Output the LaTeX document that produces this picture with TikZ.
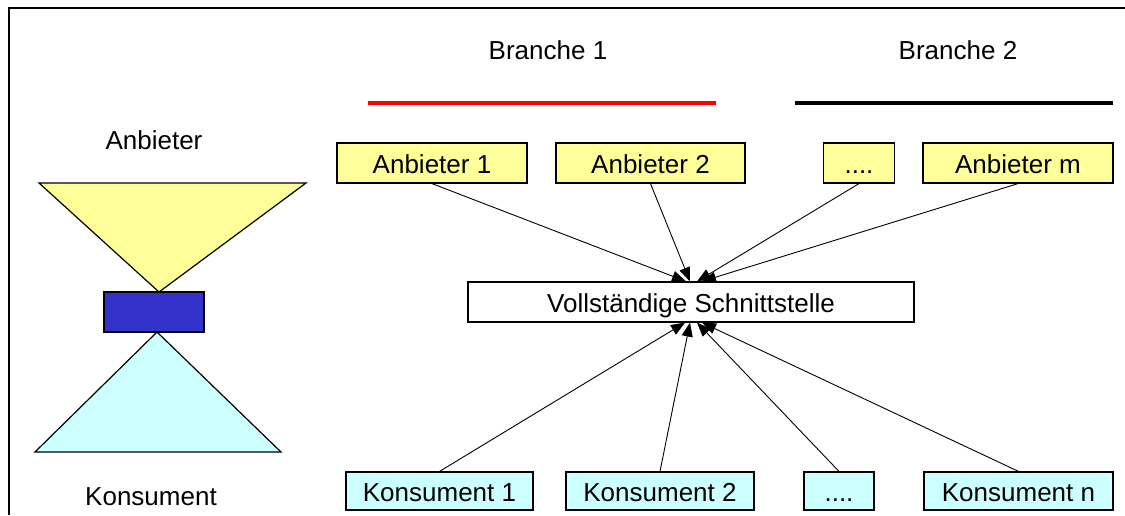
\documentclass[tikz,border=0pt]{standalone}
\usepackage{fontspec}
\setmainfont{Liberation Sans}
\usetikzlibrary{arrows.meta}
\definecolor{supplier}{HTML}{FFFF99}
\definecolor{consumer}{HTML}{CCFFFF}
\definecolor{hub}{HTML}{3333CC}
\begin{document}
\begin{tikzpicture}[x=1pt,y=-1pt,
  font=\fontsize{26}{30}\selectfont,
  boxbase/.style={draw=black,line width=1.2pt,inner sep=0pt,minimum height=40pt,
    text height=22pt,text depth=2pt},
  supplierbox/.style={boxbase,fill=supplier},
  consumerbox/.style={boxbase,fill=consumer,minimum height=38pt},
  interfacebox/.style={boxbase,fill=white},
  link/.style={line width=0.9pt,-{Triangle[length=14pt,width=11pt]}},
  shapeline/.style={draw=black,line width=1.2pt}]
\useasboundingbox (0,0) rectangle (1125,515);
% outer frame (top and left edges)
\draw[line width=1.8pt] (1125,8) -- (9,8) -- (9,515);

% left-hand funnel
\node (anb) at (154,140) {Anbieter};
\node (kon) at (151,497) {Konsument};
\filldraw[shapeline,fill=supplier] (39,183) -- (306,183) -- (159,292) -- cycle;
\filldraw[shapeline,fill=consumer] (157,332) -- (281,452) -- (35,452) -- cycle;
\filldraw[shapeline,fill=hub] (104,292) rectangle (204,332);

% branch headings
\node (b1) at (548,50) {Branche 1};
\node (b2) at (958,50) {Branche 2};
\draw[red,line width=3.5pt] (368,103) -- (716,103);
\draw[black,line width=3.5pt] (795,103) -- (1113,103);

% suppliers
\node[supplierbox,minimum width=190pt] (a1) at (432,163) {Anbieter 1};
\node[supplierbox,minimum width=189pt] (a2) at (650.5,163) {Anbieter 2};
\node[supplierbox,minimum width=71pt] (ad) at (859,163) {....};
\node[supplierbox,minimum width=190pt] (am) at (1018,163) {Anbieter m};

% interface
\node[interfacebox,minimum width=446pt] (s) at (691,302) {Vollständige Schnittstelle};

% consumers
\node[consumerbox,minimum width=187pt] (k1) at (439.5,491) {Konsument 1};
\node[consumerbox,minimum width=188pt] (k2) at (660,491) {Konsument 2};
\node[consumerbox,minimum width=70pt] (kd) at (839,491) {....};
\node[consumerbox,minimum width=189pt] (kn) at (1018.5,491) {Konsument n};

% connectors into the interface
\draw[link] (a1.south) -- ([xshift=-5pt]s.north);
\draw[link] (a2.south) -- ([xshift=-1pt]s.north);
\draw[link] (ad.south) -- ([xshift=6pt]s.north);
\draw[link] (am.south) -- ([xshift=11pt]s.north);
\draw[link] (k1.north) -- ([xshift=-6pt]s.south);
\draw[link] (k2.north) -- ([xshift=-1pt]s.south);
\draw[link] (kd.north) -- ([xshift=6pt]s.south);
\draw[link] (kn.north) -- ([xshift=11pt]s.south);
\end{tikzpicture}
\end{document}
